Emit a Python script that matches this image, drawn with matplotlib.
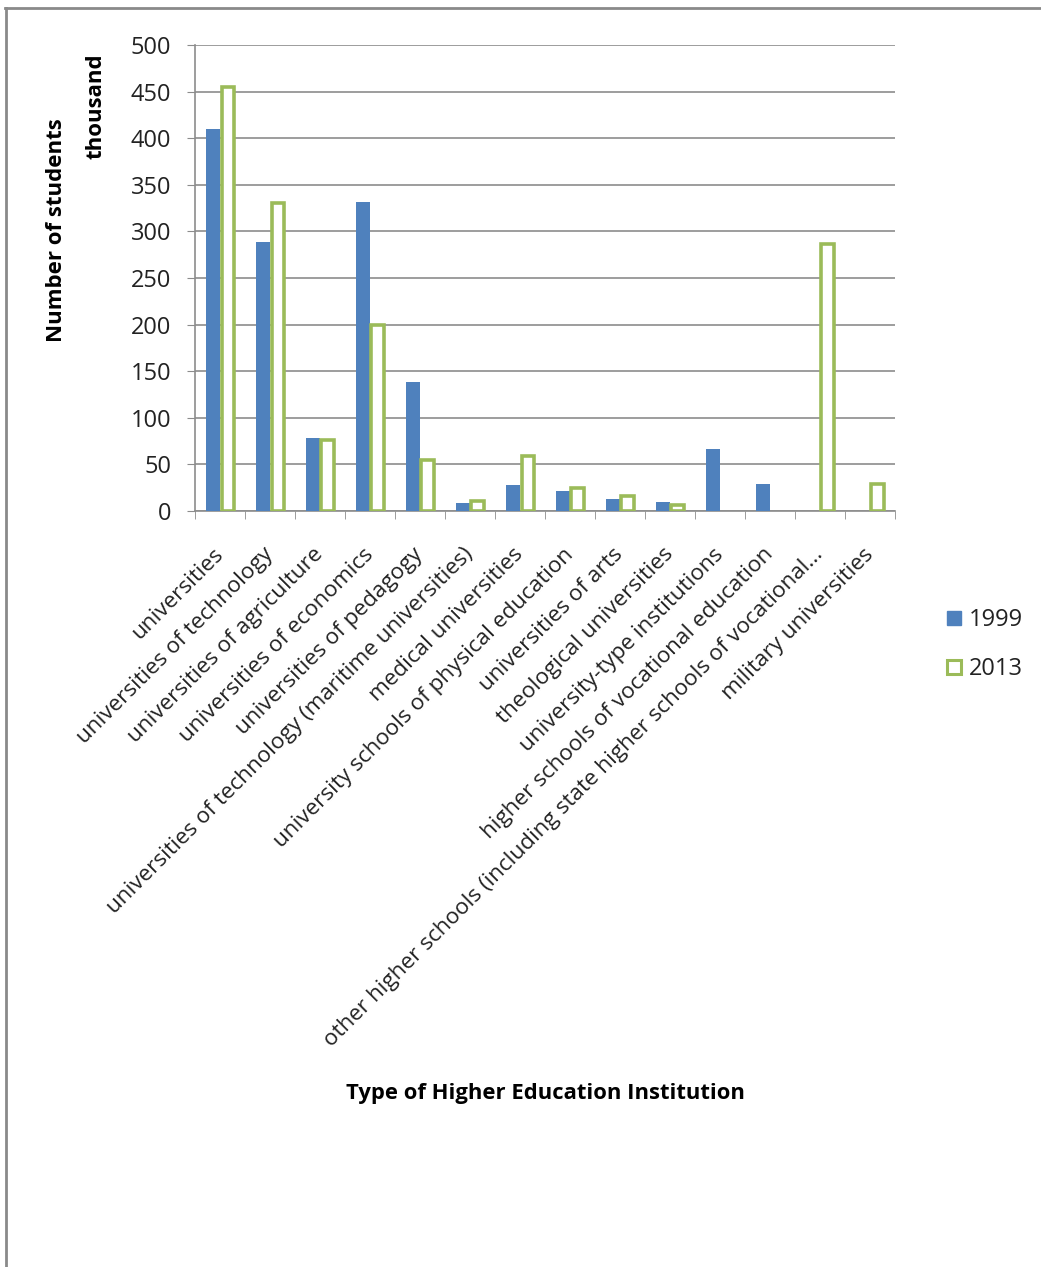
import numpy as np
import matplotlib
matplotlib.use('Agg')
import matplotlib.pyplot as plt
from matplotlib.lines import Line2D

plt.rcParams['font.family'] = ['Open Sans', 'DejaVu Sans']

categories = [
    'universities',
    'universities of technology',
    'universities of agriculture',
    'universities of economics',
    'universities of pedagogy',
    'universities of technology (maritime universities)',
    'medical universities',
    'university schools of physical education',
    'universities of arts',
    'theological universities',
    'university-type institutions',
    'higher schools of vocational education',
    'other higher schools (including state higher schools of vocational...',
    'military universities',
]
students_1999 = [410, 289, 78, 332, 138, 8.6, 28, 21, 12.5, 9.7, 66, 29, 0, 0]
students_2013 = [455, 331, 76, 200, 55, 10.4, 59.5, 25, 16.5, 6, 0, 0, 286, 29]
series_labels = ['1999', '2013']
yticks = [0, 50, 100, 150, 200, 250, 300, 350, 400, 450, 500]

blue = '#4F81BD'
green = '#9BBB59'
grid_gray = '#8C8C8C'
text_col = '#222222'

W, H = 1041, 1267
fig = plt.figure(figsize=(W / 100, H / 100), dpi=100)
ax = fig.add_axes([195 / W, 1 - 511 / H, 700 / W, 466 / H])

x = np.arange(len(categories))
bw = 1 / 3.5
b1 = ax.bar(x - bw / 2, students_1999, bw, color=blue, edgecolor='none', zorder=3)
b2 = ax.bar(x + bw / 2 + 0.01, np.array(students_2013), bw * 0.86, color='white',
            edgecolor=green, linewidth=2.6, zorder=3)
# hide empty outline boxes
for rect, v in zip(b2, students_2013):
    if v == 0:
        rect.set_visible(False)

ax.set_xlim(-0.5, len(categories) - 0.5)
ax.set_ylim(0, 500)
ax.set_yticks(yticks)
ax.yaxis.grid(True, color=grid_gray, linewidth=1.2, zorder=0)
ax.set_axisbelow(True)
for s in ['top', 'right']:
    ax.spines[s].set_visible(False)
for s in ['left', 'bottom']:
    ax.spines[s].set_color(grid_gray)
    ax.spines[s].set_linewidth(1.2)

ax.tick_params(axis='y', direction='out', length=6, color=grid_gray,
               labelsize=17, labelcolor=text_col, pad=11)
ax.set_xticks(np.arange(len(categories) + 1) - 0.5, minor=True)
ax.set_xticks(x)
ax.set_xticklabels(categories, rotation=45, ha='right', va='center',
                   rotation_mode='anchor', fontsize=16.2, color=text_col)
ax.tick_params(axis='x', which='major', length=0, pad=29)
ax.tick_params(axis='x', which='minor', direction='out', length=6, color=grid_gray)

fig.text(57 / W, 1 - 230 / H, 'Number of students', rotation=90, ha='center',
         va='center', fontsize=16, fontweight='bold')
fig.text(96 / W, 1 - 106 / H, 'thousand', rotation=90, ha='center',
         va='center', fontsize=16, fontweight='bold')
fig.text(545 / W, 1 - 1093 / H, 'Type of Higher Education Institution',
         ha='center', va='center', fontsize=15.8, fontweight='bold')

handles = [
    Line2D([], [], marker='s', linestyle='none', markersize=10,
           markerfacecolor=blue, markeredgecolor=blue),
    Line2D([], [], marker='s', linestyle='none', markersize=10,
           markerfacecolor='white', markeredgecolor=green, markeredgewidth=2.2),
]
fig.legend(handles, series_labels, loc='upper left', bbox_to_anchor=(942 / W, 1 - 608 / H),
           frameon=False, fontsize=17, labelspacing=1.05, handletextpad=0.15,
           handlelength=1.0, borderaxespad=0, borderpad=0, labelcolor=text_col)

# frame around the picture (top and left edges visible)
fig.add_artist(Line2D([5 / W, 1], [1 - 8 / H, 1 - 8 / H], transform=fig.transFigure,
                      color='#8A8A8A', linewidth=2))
fig.add_artist(Line2D([6 / W, 6 / W], [0, 1 - 8 / H], transform=fig.transFigure,
                      color='#8A8A8A', linewidth=2))

fig.savefig('out.png', dpi=100)
